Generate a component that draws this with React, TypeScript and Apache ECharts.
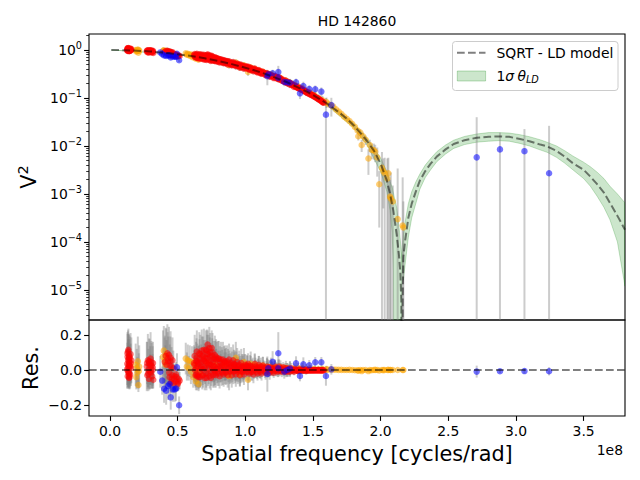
import React, { useEffect, useRef } from "react";
import * as echarts from "echarts";

const FONT = "DejaVu Sans";

// axis extents (frequency in units of 1e8 cycles/rad)
const X_MIN = -0.155;
const X_MAX = 3.806;
const LOGV2_MIN = -5.625;
const LOGV2_MAX = 0.333;
const RES_MIN = -0.261;
const RES_MAX = 0.284;

const xTicks = [0, 0.5, 1.0, 1.5, 2.0, 2.5, 3.0, 3.5];
const yTickExps = [-5, -4, -3, -2, -1, 0];
const resTicks = [-0.2, 0, 0.2];

// SQRT - LD model curve
const modelFreq = [0.01, 0.1, 0.2, 0.3, 0.4, 0.5, 0.6, 0.7, 0.8, 0.9, 1.0, 1.1, 1.2, 1.3, 1.4,
  1.45, 1.5, 1.55, 1.6, 1.65, 1.7, 1.75, 1.8, 1.85, 1.9, 1.95, 2.0,
  2.045, 2.07, 2.094, 2.119, 2.135, 2.145, 2.153, 2.158, 2.163, 2.168,
  2.18, 2.205, 2.23, 2.26, 2.29, 2.33, 2.37, 2.415,
  2.48, 2.54, 2.62, 2.71, 2.80, 2.87, 2.95, 3.03, 3.10, 3.18,
  3.23, 3.30, 3.36, 3.42, 3.50, 3.55, 3.60, 3.65, 3.695, 3.75, 3.806];
const modelV2 = [1.0, 0.992, 0.969, 0.931, 0.880, 0.818, 0.748, 0.671, 0.590, 0.508, 0.428, 0.352, 0.281, 0.218, 0.160,
  0.137, 0.115, 0.095, 0.0776, 0.061, 0.0483, 0.037, 0.027, 0.0188, 0.0127, 0.008, 0.0043,
  0.00195, 0.001, 4.5e-4, 1.4e-4, 5.6e-5, 2.5e-5, 6e-6, 0, 6e-6, 4.9e-5,
  1.0e-4, 3.2e-4, 6.3e-4, 1.12e-3, 1.9e-3, 3.0e-3, 4.3e-3, 6.0e-3,
  8.5e-3, 1.1e-2, 1.32e-2, 1.48e-2, 1.55e-2, 1.58e-2, 1.55e-2, 1.40e-2, 1.26e-2, 1.07e-2,
  9.8e-3, 7.9e-3, 6.0e-3, 4.4e-3, 3.2e-3, 2.3e-3, 1.6e-3, 1.07e-3, 6.5e-4, 3.5e-4, 1.8e-4];

// 1 sigma theta_LD band
const bandFreq = [0.01, 0.5, 1.0, 1.4, 1.6, 1.8, 1.9, 2.0,
  2.045, 2.07, 2.085, 2.095, 2.10, 2.12, 2.14, 2.15, 2.152, 2.156,
  2.16, 2.168, 2.18, 2.205, 2.23, 2.26, 2.29, 2.33, 2.37, 2.415,
  2.48, 2.54, 2.62, 2.71, 2.80, 2.87, 2.95, 3.03, 3.10, 3.178,
  3.23, 3.30, 3.36, 3.42, 3.50, 3.55, 3.60, 3.65, 3.695, 3.75, 3.806];
const bandUpper = [1.0, 0.822, 0.44, 0.17, 0.083, 0.03, 0.0145, 0.0056,
  0.003, 0.0018, 0.0014, 0.00105, 8.9e-4, 5.0e-4, 1.6e-4, 8e-5, 7e-5, 5e-5,
  8e-5, 1.4e-4, 2.5e-4, 6.3e-4, 1.12e-3, 1.78e-3, 2.6e-3, 4.0e-3, 5.5e-3, 7.6e-3,
  1.05e-2, 1.32e-2, 1.58e-2, 1.78e-2, 1.9e-2, 1.9e-2, 1.86e-2, 1.72e-2, 1.56e-2, 1.35e-2,
  1.2e-2, 1.0e-2, 8.0e-3, 6.2e-3, 4.6e-3, 3.7e-3, 2.85e-3, 2.1e-3, 1.45e-3, 1.0e-3, 6.5e-4];
const bandLower = [1.0, 0.814, 0.416, 0.15, 0.072, 0.024, 0.0105, 0.0029,
  0.00115, 4.5e-4, 1.6e-4, 2.5e-5, 0, 0, 0, 0, 0, 5e-5,
  3.2e-5, 1.6e-5, 3.2e-5, 1.26e-4, 3.2e-4, 6.3e-4, 1.26e-3, 2.2e-3, 3.2e-3, 4.7e-3,
  6.8e-3, 8.9e-3, 1.07e-2, 1.2e-2, 1.26e-2, 1.29e-2, 1.26e-2, 1.13e-2, 1.0e-2, 8.3e-3,
  7.4e-3, 5.8e-3, 4.4e-3, 3.2e-3, 2.1e-3, 1.45e-3, 9.0e-4, 5.3e-4, 2.9e-4, 1.0e-4, 1.2e-5];

// data points: [frequency (1e8), V2, sigma V2, residual]
const orangePoints = [
  [0.190, 1.00, 0.12, 0.03], [0.194, 0.93, 0.07, -0.04], [0.198, 0.98, 0.11, 0.01], [0.202, 0.95, 0.09, -0.015],
  [0.206, 1.02, 0.14, 0.05], [0.210, 0.88, 0.04, -0.085], [0.213, 0.96, 0.10, -0.005], [0.216, 0.99, 0.12, 0.02],
  [0.392, 0.96, 0.15, 0.075], [0.398, 0.98, 0.14, 0.11], [0.404, 0.93, 0.13, 0.055], [0.410, 0.90, 0.11, 0.03],
  [0.416, 0.95, 0.15, 0.085],
  [0.560, 0.85, 0.09, 0.065], [0.568, 0.80, 0.08, 0.02], [0.575, 0.83, 0.09, 0.055], [0.582, 0.78, 0.07, 0.01],
  [0.590, 0.81, 0.09, 0.05], [0.598, 0.74, 0.07, -0.01], [0.606, 0.79, 0.09, 0.045], [0.615, 0.70, 0.06, -0.04],
  [0.625, 0.76, 0.09, 0.025], [0.635, 0.66, 0.05, -0.065], [0.645, 0.72, 0.08, 0.0], [0.655, 0.63, 0.04, -0.08],
  [0.665, 0.68, 0.07, -0.025],
  [0.72, 0.70, 0.10, 0.04], [0.78, 0.64, 0.09, 0.03], [0.85, 0.58, 0.09, 0.03], [0.88, 0.49, 0.08, -0.035],
  [0.93, 0.55, 0.09, 0.07], [0.96, 0.44, 0.07, -0.025], [0.99, 0.48, 0.08, 0.045], [1.02, 0.35, 0.06, -0.055],
  [1.04, 0.43, 0.07, 0.035], [1.07, 0.40, 0.06, 0.03], [1.10, 0.37, 0.06, 0.02], [1.13, 0.35, 0.05, 0.025],
  [1.16, 0.32, 0.05, 0.015], [1.19, 0.31, 0.05, 0.02], [1.22, 0.28, 0.04, 0.015], [1.26, 0.26, 0.04, 0.015],
  [1.30, 0.23, 0.04, 0.012], [1.33, 0.21, 0.04, 0.01], [1.36, 0.19, 0.03, 0.008], [1.39, 0.175, 0.03, 0.01],
  [1.42, 0.16, 0.03, 0.01], [1.45, 0.14, 0.03, 0.005], [1.48, 0.13, 0.02, 0.008], [1.51, 0.115, 0.02, 0.005],
  [1.54, 0.10, 0.02, 0.004], [1.57, 0.09, 0.02, 0.005], [1.60, 0.082, 0.02, 0.004],
  [1.61, 0.076, 0.006, 0.002], [1.63, 0.071, 0.006, 0.003], [1.65, 0.066, 0.005, 0.002], [1.67, 0.058, 0.005, 0.002],
  [1.69, 0.052, 0.005, 0.001], [1.71, 0.047, 0.004, 0.001], [1.73, 0.041, 0.004, 0.0], [1.75, 0.037, 0.004, 0.0],
  [1.77, 0.033, 0.003, 0.001], [1.79, 0.029, 0.003, 0.0], [1.81, 0.025, 0.003, -0.001], [1.83, 0.021, 0.003, -0.001],
  [1.835, 0.016, 0.003, -0.004], [1.85, 0.019, 0.003, 0.0], [1.86, 0.0105, 0.003, -0.006], [1.87, 0.016, 0.003, 0.0],
  [1.89, 0.0135, 0.003, 0.0], [1.91, 0.0055, 0.003, -0.006], [1.92, 0.0105, 0.003, 0.0], [1.934, 0.0083, 0.003, -0.001],
  [1.95, 0.0082, 0.003, 0.0], [1.96, 0.0076, 0.003, 0.001], [1.975, 0.0058, 0.0035, 0.0], [1.99, 0.0016, 0.0014, -0.003],
  [2.01, 0.0035, 0.004, 0.0], [2.02, 0.003, 0.0025, -0.0004], [2.03, 0.0027, 0.003, 0.0], [2.05, 0.0021, 0.0034, 0.0002],
  [2.057, 0.0027, 0.003, 0.001], [2.07, 0.00088, 0.0011, 0.0], [2.075, 0.00081, 0.002, 0.0], [2.09, 0.0007, 0.0008, 0.0002],
  [2.126, 0.0003, 0.0031, 0.0002], [2.163, 0.00022, 0.002, 0.0002], [2.168, 0.0002, 0.0005, 0.0002],
];

const redPoints = [
  [0.128, 1.02, 0.12, 0.035], [0.130, 1.06, 0.13, 0.075], [0.131, 0.95, 0.07, -0.035], [0.133, 1.09, 0.12, 0.105],
  [0.135, 1.00, 0.11, 0.015], [0.137, 0.97, 0.09, -0.015], [0.139, 1.05, 0.14, 0.065], [0.141, 0.94, 0.06, -0.045],
  [0.143, 1.03, 0.13, 0.045], [0.146, 1.01, 0.12, 0.025], [0.149, 0.96, 0.08, -0.025], [0.152, 1.07, 0.12, 0.09],
  [0.155, 0.99, 0.10, 0.01], [0.158, 1.04, 0.13, 0.055],
  [0.127, 0.99, 0.11, 0.005], [0.129, 1.08, 0.12, 0.095], [0.132, 0.98, 0.09, -0.005], [0.134, 1.04, 0.12, 0.055],
  [0.136, 1.10, 0.12, 0.115], [0.138, 1.01, 0.11, 0.03], [0.140, 0.97, 0.08, -0.02], [0.142, 1.06, 0.12, 0.08],
  [0.144, 0.95, 0.07, -0.04], [0.147, 1.05, 0.12, 0.07], [0.150, 1.00, 0.10, 0.02], [0.153, 1.02, 0.11, 0.04],
  [0.272, 0.95, 0.14, 0.02], [0.276, 0.90, 0.08, -0.03], [0.280, 0.99, 0.15, 0.055], [0.284, 0.93, 0.12, 0.0],
  [0.288, 0.88, 0.06, -0.05], [0.292, 0.96, 0.14, 0.035], [0.296, 0.92, 0.10, -0.01], [0.300, 0.99, 0.15, 0.065],
  [0.304, 0.91, 0.09, -0.015], [0.308, 0.95, 0.13, 0.025], [0.312, 0.89, 0.07, -0.035], [0.316, 0.94, 0.12, 0.015],
  [0.320, 0.87, 0.05, -0.055],
  [0.274, 0.97, 0.12, 0.04], [0.282, 0.91, 0.08, -0.02], [0.290, 0.98, 0.13, 0.05], [0.298, 0.95, 0.11, 0.025],
  [0.306, 0.97, 0.12, 0.045], [0.314, 0.92, 0.09, 0.0], [0.318, 0.96, 0.12, 0.04],
  [0.405, 0.92, 0.15, 0.045], [0.412, 0.95, 0.16, 0.08], [0.418, 0.90, 0.14, 0.03], [0.424, 0.96, 0.165, 0.095],
  [0.430, 0.91, 0.14, 0.05], [0.436, 0.94, 0.16, 0.085], [0.442, 0.88, 0.12, 0.025], [0.448, 0.92, 0.15, 0.07],
  [0.455, 0.87, 0.11, 0.02], [0.462, 0.90, 0.13, 0.055], [0.468, 0.85, 0.10, 0.01], [0.440, 0.81, 0.07, -0.04],
  [0.452, 0.78, 0.06, -0.07], [0.460, 0.82, 0.07, -0.03], [0.470, 0.77, 0.05, -0.075], [0.478, 0.80, 0.07, -0.035],
  [0.485, 0.76, 0.05, -0.065], [0.492, 0.79, 0.06, -0.04], [0.500, 0.74, 0.04, -0.08], [0.508, 0.77, 0.06, -0.05],
  [0.515, 0.75, 0.05, -0.06],
  [0.438, 0.84, 0.08, -0.015], [0.458, 0.80, 0.07, -0.05], [0.474, 0.79, 0.06, -0.05], [0.488, 0.80, 0.07, -0.025],
  [0.505, 0.75, 0.05, -0.07], [0.426, 0.93, 0.15, 0.065], [0.446, 0.90, 0.14, 0.05],
  [0.625, 0.76, 0.10, 0.03], [0.632, 0.70, 0.07, -0.03], [0.640, 0.79, 0.11, 0.07], [0.648, 0.73, 0.10, 0.02],
  [0.655, 0.67, 0.07, -0.04], [0.662, 0.77, 0.11, 0.065], [0.670, 0.71, 0.10, 0.01], [0.678, 0.80, 0.12, 0.11],
  [0.685, 0.69, 0.09, 0.005], [0.692, 0.74, 0.11, 0.06], [0.700, 0.63, 0.07, -0.045], [0.708, 0.78, 0.11, 0.115],
  [0.715, 0.70, 0.10, 0.04], [0.722, 0.81, 0.08, 0.145], [0.730, 0.66, 0.09, 0.01], [0.738, 0.72, 0.11, 0.075],
  [0.745, 0.59, 0.07, -0.045], [0.752, 0.76, 0.10, 0.125], [0.760, 0.67, 0.10, 0.045], [0.768, 0.62, 0.09, 0.0],
  [0.775, 0.70, 0.11, 0.085], [0.782, 0.58, 0.07, -0.03], [0.790, 0.66, 0.10, 0.06], [0.800, 0.61, 0.09, 0.02],
  [0.810, 0.55, 0.07, -0.035], [0.820, 0.64, 0.10, 0.06], [0.830, 0.59, 0.09, 0.025], [0.840, 0.53, 0.07, -0.025],
  [0.850, 0.60, 0.09, 0.05], [0.860, 0.56, 0.08, 0.02], [0.870, 0.50, 0.07, -0.03], [0.880, 0.58, 0.09, 0.06],
  [0.890, 0.53, 0.08, 0.015], [0.900, 0.48, 0.07, -0.03], [0.910, 0.56, 0.09, 0.055], [0.920, 0.51, 0.08, 0.02],
  [0.930, 0.46, 0.07, -0.025], [0.940, 0.52, 0.08, 0.045], [0.950, 0.47, 0.07, 0.0], [0.960, 0.43, 0.06, -0.03],
  [0.970, 0.49, 0.08, 0.04], [0.980, 0.45, 0.07, 0.01], [0.990, 0.41, 0.06, -0.025],
  [0.628, 0.73, 0.09, 0.0], [0.636, 0.78, 0.11, 0.05], [0.644, 0.69, 0.08, -0.035], [0.652, 0.75, 0.10, 0.035],
  [0.660, 0.81, 0.12, 0.095], [0.666, 0.70, 0.09, -0.01], [0.674, 0.74, 0.10, 0.045], [0.682, 0.66, 0.08, -0.03],
  [0.689, 0.76, 0.11, 0.08], [0.696, 0.69, 0.09, 0.02], [0.704, 0.72, 0.10, 0.05], [0.711, 0.65, 0.08, -0.02],
  [0.718, 0.75, 0.11, 0.09], [0.726, 0.69, 0.09, 0.03], [0.734, 0.78, 0.12, 0.125], [0.742, 0.67, 0.09, 0.03],
  [0.749, 0.62, 0.08, -0.01], [0.756, 0.71, 0.10, 0.08], [0.764, 0.65, 0.09, 0.025], [0.772, 0.60, 0.08, -0.02],
  [0.779, 0.68, 0.10, 0.065], [0.786, 0.63, 0.09, 0.03], [0.795, 0.58, 0.08, -0.01], [0.805, 0.65, 0.10, 0.065],
  [0.815, 0.60, 0.09, 0.02], [0.825, 0.56, 0.08, -0.01], [0.835, 0.62, 0.10, 0.06], [0.845, 0.57, 0.08, 0.02],
  [0.855, 0.53, 0.07, -0.015], [0.865, 0.59, 0.09, 0.05], [0.875, 0.54, 0.08, 0.01], [0.885, 0.51, 0.07, -0.01],
  [0.895, 0.55, 0.09, 0.04], [0.905, 0.50, 0.07, 0.0], [0.915, 0.53, 0.08, 0.035], [0.925, 0.48, 0.07, -0.005],
  [0.935, 0.50, 0.08, 0.025], [0.945, 0.46, 0.07, -0.01], [0.955, 0.50, 0.08, 0.03], [0.965, 0.45, 0.07, -0.005],
  [0.975, 0.47, 0.07, 0.02], [0.985, 0.43, 0.06, -0.01], [0.995, 0.45, 0.07, 0.02],
  [0.621, 0.78, 0.10, 0.04], [0.626, 0.82, 0.12, 0.08], [0.634, 0.74, 0.09, 0.01], [0.638, 0.70, 0.07, -0.025],
  [0.642, 0.83, 0.12, 0.105], [0.646, 0.77, 0.10, 0.05], [0.650, 0.68, 0.07, -0.03], [0.658, 0.74, 0.10, 0.04],
  [0.664, 0.66, 0.06, -0.04], [0.668, 0.79, 0.11, 0.09], [0.676, 0.70, 0.09, 0.02], [0.680, 0.76, 0.11, 0.08],
  [0.687, 0.64, 0.07, -0.03], [0.694, 0.79, 0.12, 0.115], [0.698, 0.72, 0.10, 0.05], [0.702, 0.68, 0.09, 0.01],
  [0.706, 0.74, 0.10, 0.07], [0.713, 0.62, 0.07, -0.045], [0.716, 0.77, 0.12, 0.11], [0.720, 0.73, 0.10, 0.065],
  [0.724, 0.64, 0.07, -0.02], [0.728, 0.75, 0.11, 0.09], [0.732, 0.70, 0.10, 0.04], [0.736, 0.62, 0.07, -0.035],
  [0.740, 0.74, 0.11, 0.1], [0.747, 0.69, 0.10, 0.055], [0.754, 0.64, 0.08, 0.01], [0.758, 0.73, 0.11, 0.1],
  [0.762, 0.60, 0.07, -0.03], [0.766, 0.69, 0.10, 0.065], [0.770, 0.64, 0.09, 0.02], [0.777, 0.61, 0.08, -0.005],
  [0.784, 0.69, 0.10, 0.075], [0.792, 0.61, 0.08, 0.005], [0.798, 0.66, 0.10, 0.065], [0.803, 0.57, 0.07, -0.02],
  [0.812, 0.63, 0.09, 0.045], [0.818, 0.59, 0.08, 0.01], [0.826, 0.61, 0.09, 0.04], [0.833, 0.55, 0.07, -0.015],
  [0.842, 0.60, 0.09, 0.045], [0.848, 0.55, 0.08, 0.0], [0.857, 0.58, 0.09, 0.035],
  [0.862, 0.53, 0.07, -0.01], [0.872, 0.57, 0.08, 0.04], [0.882, 0.55, 0.08, 0.03], [0.892, 0.50, 0.07, -0.005],
  [0.902, 0.53, 0.08, 0.025], [0.912, 0.49, 0.07, -0.01], [0.922, 0.52, 0.08, 0.03], [0.932, 0.49, 0.07, 0.005],
  [0.942, 0.48, 0.07, 0.005], [0.952, 0.49, 0.07, 0.02], [0.962, 0.47, 0.07, 0.01], [0.972, 0.44, 0.06, -0.01],
  [0.982, 0.46, 0.07, 0.02], [0.992, 0.44, 0.06, 0.005],
  [1.000, 0.46, 0.06, 0.03], [1.010, 0.41, 0.05, -0.01], [1.020, 0.45, 0.06, 0.035], [1.030, 0.39, 0.05, -0.02],
  [1.040, 0.42, 0.06, 0.02], [1.050, 0.40, 0.05, 0.01], [1.060, 0.36, 0.05, -0.025], [1.070, 0.41, 0.06, 0.035],
  [1.080, 0.37, 0.05, 0.005], [1.090, 0.34, 0.04, -0.02], [1.100, 0.38, 0.05, 0.03], [1.110, 0.35, 0.05, 0.005],
  [1.120, 0.32, 0.04, -0.02], [1.130, 0.35, 0.05, 0.025], [1.140, 0.33, 0.04, 0.01], [1.150, 0.30, 0.04, -0.015],
  [1.160, 0.33, 0.05, 0.02], [1.170, 0.31, 0.04, 0.005], [1.180, 0.28, 0.04, -0.015], [1.190, 0.30, 0.04, 0.015],
  [1.200, 0.29, 0.04, 0.005], [1.210, 0.26, 0.03, -0.015], [1.220, 0.29, 0.04, 0.02], [1.230, 0.27, 0.04, 0.005],
  [1.240, 0.25, 0.03, -0.01], [1.250, 0.27, 0.04, 0.02], [1.260, 0.25, 0.03, 0.005], [1.270, 0.23, 0.03, -0.01],
  [1.280, 0.24, 0.03, 0.015], [1.290, 0.22, 0.03, 0.0], [1.300, 0.21, 0.03, -0.01], [1.310, 0.22, 0.03, 0.01],
  [1.320, 0.21, 0.03, 0.005], [1.330, 0.19, 0.03, -0.01], [1.340, 0.20, 0.03, 0.01], [1.350, 0.19, 0.02, 0.0],
  [1.360, 0.17, 0.02, -0.01], [1.370, 0.18, 0.02, 0.005], [1.380, 0.17, 0.02, 0.0], [1.390, 0.16, 0.02, -0.005],
  [1.400, 0.165, 0.02, 0.005], [1.410, 0.152, 0.02, -0.003], [1.420, 0.153, 0.02, 0.003], [1.430, 0.142, 0.02, -0.002],
  [1.440, 0.142, 0.02, 0.003], [1.450, 0.132, 0.02, -0.004], [1.460, 0.133, 0.02, 0.001], [1.470, 0.124, 0.015, -0.003],
  [1.480, 0.124, 0.015, 0.001], [1.490, 0.116, 0.015, -0.003], [1.500, 0.115, 0.015, 0.0], [1.510, 0.108, 0.015, -0.002],
  [1.520, 0.105, 0.015, 0.0], [1.530, 0.099, 0.015, -0.002], [1.540, 0.097, 0.015, 0.0], [1.550, 0.092, 0.01, -0.002],
  [1.560, 0.088, 0.01, -0.001], [1.570, 0.083, 0.01, -0.002], [1.580, 0.080, 0.01, -0.001],
  [1.005, 0.43, 0.05, 0.005], [1.015, 0.44, 0.06, 0.02], [1.025, 0.40, 0.05, -0.01], [1.035, 0.43, 0.06, 0.025],
  [1.045, 0.38, 0.05, -0.01], [1.055, 0.41, 0.05, 0.02], [1.065, 0.38, 0.05, 0.0], [1.075, 0.39, 0.05, 0.02],
  [1.085, 0.35, 0.04, -0.01], [1.095, 0.37, 0.05, 0.015], [1.105, 0.34, 0.04, -0.005], [1.115, 0.36, 0.05, 0.02],
  [1.125, 0.33, 0.04, 0.0], [1.135, 0.34, 0.04, 0.015], [1.145, 0.31, 0.04, -0.005], [1.155, 0.32, 0.04, 0.01],
  [1.165, 0.30, 0.04, 0.0], [1.175, 0.31, 0.04, 0.015], [1.185, 0.28, 0.03, -0.005], [1.195, 0.29, 0.04, 0.01],
  [1.205, 0.27, 0.03, -0.005], [1.215, 0.28, 0.04, 0.01], [1.225, 0.26, 0.03, -0.005], [1.235, 0.27, 0.03, 0.01],
  [1.245, 0.25, 0.03, 0.0], [1.255, 0.24, 0.03, -0.005], [1.265, 0.25, 0.03, 0.01], [1.275, 0.23, 0.03, 0.0],
  [1.285, 0.22, 0.03, -0.005], [1.295, 0.23, 0.03, 0.01], [1.305, 0.21, 0.03, -0.003], [1.315, 0.20, 0.03, -0.008],
  [1.325, 0.205, 0.03, 0.0], [1.335, 0.20, 0.02, 0.003], [1.345, 0.185, 0.02, -0.004], [1.355, 0.185, 0.02, 0.0],
  [1.365, 0.178, 0.02, 0.0], [1.375, 0.17, 0.02, -0.002], [1.385, 0.163, 0.02, -0.003], [1.395, 0.16, 0.02, -0.002],
  [1.405, 0.155, 0.02, -0.003], [1.415, 0.15, 0.02, -0.002], [1.425, 0.145, 0.02, -0.002], [1.435, 0.14, 0.02, -0.002],
  [1.445, 0.134, 0.02, -0.003], [1.455, 0.13, 0.02, -0.002], [1.465, 0.125, 0.015, -0.003], [1.475, 0.12, 0.015, -0.003],
  [1.485, 0.117, 0.015, -0.003], [1.495, 0.113, 0.015, -0.002], [1.505, 0.109, 0.015, -0.003], [1.515, 0.105, 0.015, -0.002],
  [1.525, 0.101, 0.015, -0.002], [1.535, 0.097, 0.015, -0.002], [1.545, 0.093, 0.01, -0.002], [1.555, 0.089, 0.01, -0.002],
  [1.565, 0.085, 0.01, -0.002], [1.575, 0.081, 0.01, -0.002],
  [1.012, 0.44, 0.06, 0.025], [1.032, 0.41, 0.05, 0.005], [1.052, 0.38, 0.05, -0.01], [1.072, 0.38, 0.05, 0.005],
  [1.092, 0.37, 0.05, 0.01], [1.112, 0.33, 0.04, -0.01],
];

const bluePoints = [
  [0.372, 0.89, 0.09, -0.01], [0.386, 0.82, 0.08, -0.06], [0.400, 0.77, 0.08, -0.106], [0.415, 0.753, 0.08, -0.117],
  [0.430, 0.77, 0.08, -0.09], [0.440, 0.77, 0.07, -0.08], [0.449, 0.696, 0.07, -0.155], [0.465, 0.733, 0.07, -0.11],
  [0.479, 0.725, 0.07, -0.11], [0.488, 0.72, 0.07, -0.105], [0.495, 0.836, 0.08, 0.015], [0.511, 0.61, 0.05, -0.2],
  [1.163, 0.284, 0.10, -0.023], [1.170, 0.312, 0.05, 0.01], [1.202, 0.327, 0.06, 0.047], [1.244, 0.347, 0.12, 0.095],
  [1.244, 0.262, 0.05, 0.01], [1.288, 0.216, 0.04, -0.009], [1.310, 0.212, 0.04, 0.0], [1.330, 0.208, 0.04, 0.009],
  [1.375, 0.213, 0.04, 0.038], [1.404, 0.125, 0.03, -0.034], [1.429, 0.178, 0.04, 0.032], [1.473, 0.153, 0.03, 0.027],
  [1.517, 0.152, 0.03, 0.044], [1.562, 0.136, 0.03, 0.044], [1.596, 0.045, 0.055, -0.034], [1.636, 0.071, 0.03, 0.004],
  [2.71, 0.0058, 0.034, -0.009], [2.882, 0.0085, 0.0105, -0.007], [3.063, 0.0078, 0.0147, -0.006], [3.245, 0.0027, 0.0236, -0.007],
];

const lg = (v: number) => Math.log10(Math.max(v, 1e-9));

const minorTicks: number[] = [];
for (let e = -6; e <= 0; e++) {
  for (let k = 2; k <= 9; k++) {
    const v = e + Math.log10(k);
    if (v > LOGV2_MIN && v < LOGV2_MAX) minorTicks.push(v);
  }
}

const allPoints = [...orangePoints, ...redPoints, ...bluePoints];
const ERR_COLOR = "rgba(128,128,128,0.4)";
const DASH = [7.7, 3.3];
const PT_SIZE = 6.5;
const PT_ALPHA = 0.55;

function errRender(params: any, api: any) {
  const p1 = api.coord([api.value(0), api.value(1)]);
  const p2 = api.coord([api.value(0), api.value(2)]);
  return {
    type: "line",
    shape: { x1: p1[0], y1: p1[1], x2: p2[0], y2: p2[1] },
    style: { stroke: ERR_COLOR, lineWidth: 2 },
  };
}

function bandRender(params: any, api: any) {
  const up = bandFreq.map((x, i) => api.coord([x, lg(bandUpper[i])]));
  const lo = bandFreq.map((x, i) => api.coord([x, lg(bandLower[i])])).reverse();
  const cs = params.coordSys;
  return {
    type: "polygon",
    shape: { points: [...up, ...lo] },
    style: { fill: "rgba(0,128,0,0.2)", stroke: "rgba(0,128,0,0.22)", lineWidth: 1 },
    clipPath: { type: "rect", shape: { x: cs.x, y: cs.y, width: cs.width, height: cs.height } },
  };
}

const scatterTop = (pts: number[][], color: string, name: string) => ({
  type: "scatter",
  name,
  xAxisIndex: 0,
  yAxisIndex: 0,
  symbolSize: PT_SIZE,
  z: 3,
  silent: true,
  itemStyle: { color, opacity: PT_ALPHA },
  data: pts.map((p) => [p[0], lg(p[1])]),
});
const scatterRes = (pts: number[][], color: string, name: string) => ({
  type: "scatter",
  name,
  xAxisIndex: 1,
  yAxisIndex: 1,
  symbolSize: PT_SIZE,
  z: 3,
  silent: true,
  itemStyle: { color, opacity: PT_ALPHA },
  data: pts.map((p) => [p[0], p[3]]),
});

const tickStyle = { color: "#000", width: 1.1 };
const labelBase = { color: "#000", fontFamily: FONT, fontSize: 13.9 };
const fmtRes = (v: number) => (v < 0 ? "\u2212" : "") + Math.abs(v).toFixed(1);
const noLine = { show: false, onZero: false };

function buildOption() {
  return {
    animation: false,
    backgroundColor: "#ffffff",
    textStyle: { fontFamily: FONT },
    grid: [
      { left: 89, top: 34, width: 536, height: 286, show: true, borderColor: "#000", borderWidth: 1.1, backgroundColor: "transparent" },
      { left: 89, top: 320, width: 536, height: 96, show: true, borderColor: "#000", borderWidth: 1.1, backgroundColor: "transparent" },
    ],
    xAxis: [
      {
        gridIndex: 0, type: "value", min: X_MIN, max: X_MAX, position: "bottom",
        axisLine: noLine, axisTick: { show: false }, axisLabel: { show: false }, splitLine: { show: false },
      },
      {
        gridIndex: 1, type: "value", min: X_MIN, max: X_MAX, position: "bottom",
        axisLine: noLine, splitLine: { show: false },
        axisTick: { show: true, length: 4.9, customValues: xTicks, lineStyle: tickStyle },
        axisLabel: { ...labelBase, customValues: xTicks, margin: 8, formatter: (v: number) => v.toFixed(1) },
        name: "Spatial frequency [cycles/rad]", nameLocation: "middle", nameGap: 27, nameMoveOverlap: false,
        nameTextStyle: { color: "#000", fontFamily: FONT, fontSize: 20.8 },
      },
    ],
    yAxis: [
      {
        gridIndex: 0, type: "value", min: LOGV2_MIN, max: LOGV2_MAX, position: "left",
        axisLine: noLine, splitLine: { show: false },
        axisTick: { show: true, length: 4.9, customValues: yTickExps, lineStyle: tickStyle },
        axisLabel: {
          customValues: yTickExps, margin: 7,
          formatter: (v: number) => `{b|10}{s|${v === 0 ? "0" : "\u2212" + Math.abs(v)}}`,
          rich: {
            b: { ...labelBase },
            s: { color: "#000", fontFamily: FONT, fontSize: 9.7, padding: [0, 0, 8, 0] },
          },
        },
        name: "{a|V}{b|2}", nameLocation: "middle", nameGap: 47, nameMoveOverlap: false,
        nameTextStyle: {
          rich: {
            a: { color: "#000", fontFamily: FONT, fontSize: 20.8 },
            b: { color: "#000", fontFamily: FONT, fontSize: 14.6, padding: [0, 0, 12, 0] },
          },
        },
      },
      {
        gridIndex: 1, type: "value", min: RES_MIN, max: RES_MAX, position: "left",
        axisLine: noLine, splitLine: { show: false },
        axisTick: { show: true, length: 4.9, customValues: resTicks, lineStyle: tickStyle },
        axisLabel: { ...labelBase, customValues: resTicks, margin: 7, formatter: fmtRes },
        name: "Res.", nameLocation: "middle", nameGap: 48, nameMoveOverlap: false,
        nameTextStyle: { color: "#000", fontFamily: FONT, fontSize: 20.8 },
      },
      {
        gridIndex: 0, type: "value", min: LOGV2_MIN, max: LOGV2_MAX, position: "left", offset: 0,
        axisLine: noLine, splitLine: { show: false }, axisLabel: { show: false },
        axisTick: { show: true, length: 2.8, customValues: minorTicks, lineStyle: { color: "#000", width: 0.8 } },
      },
    ],
    series: [
      {
        type: "custom", name: "band", xAxisIndex: 0, yAxisIndex: 0, z: 1, silent: true, clip: true,
        renderItem: bandRender, data: [[bandFreq[0], lg(bandUpper[0])]],
      },
      {
        type: "custom", name: "errTop", xAxisIndex: 0, yAxisIndex: 0, z: 2, silent: true, clip: true,
        renderItem: errRender,
        encode: { x: 0, y: [1, 2] },
        data: allPoints.map((p) => [p[0], Math.max(lg(p[1] - p[2]), LOGV2_MIN), lg(p[1] + p[2])]),
      },
      scatterTop(orangePoints, "#ffa500", "orange"),
      scatterTop(redPoints, "#ff0000", "red"),
      scatterTop(bluePoints, "#0000ff", "blue"),
      {
        type: "line", name: "SQRT - LD model", xAxisIndex: 0, yAxisIndex: 0, z: 4, silent: true,
        showSymbol: false, symbol: "none", clip: true,
        lineStyle: { color: "rgba(0,0,0,0.5)", width: 2, type: DASH },
        data: modelFreq.map((x, i) => [x, lg(modelV2[i])]),
      },
      {
        type: "scatter", name: "zero", xAxisIndex: 1, yAxisIndex: 1, z: 1, silent: true, data: [],
        markLine: {
          silent: true, symbol: ["none", "none"], label: { show: false },
          lineStyle: { color: "rgba(0,0,0,0.5)", width: 2, type: DASH },
          data: [{ yAxis: 0 }],
        },
      },
      {
        type: "custom", name: "errRes", xAxisIndex: 1, yAxisIndex: 1, z: 2, silent: true, clip: true,
        renderItem: errRender,
        encode: { x: 0, y: [1, 2] },
        data: allPoints.map((p) => [p[0], p[3] - p[2], p[3] + p[2]]),
      },
      scatterRes(orangePoints, "#ffa500", "orangeRes"),
      scatterRes(redPoints, "#ff0000", "redRes"),
      scatterRes(bluePoints, "#0000ff", "blueRes"),
    ],
    graphic: [
      {
        type: "text", x: 357, y: 21, z: 100,
        style: { text: "HD 142860", fontFamily: FONT, fontSize: 13.9, fill: "#000", align: "center", verticalAlign: "middle" },
      },
      {
        type: "text", x: 623, y: 450, z: 100,
        style: { text: "1e8", fontFamily: FONT, fontSize: 13.9, fill: "#000", align: "right", verticalAlign: "middle" },
      },
      {
        type: "group", z: 100,
        children: [
          {
            type: "rect", shape: { x: 452.5, y: 41.5, width: 165.5, height: 49, r: 3 },
            style: { fill: "rgba(255,255,255,0.8)", stroke: "#cccccc", lineWidth: 1 },
          },
          {
            type: "line", shape: { x1: 457, y1: 52.7, x2: 485.5, y2: 52.7 },
            style: { stroke: "rgba(0,0,0,0.5)", lineWidth: 2, lineDash: DASH },
          },
          {
            type: "text", x: 496.5, y: 53,
            style: { text: "SQRT - LD model", fontFamily: FONT, fontSize: 13.9, fill: "#000", align: "left", verticalAlign: "middle" },
          },
          {
            type: "rect", shape: { x: 457.3, y: 71, width: 28.3, height: 10 },
            style: { fill: "rgba(0,128,0,0.2)", stroke: "rgba(0,128,0,0.25)", lineWidth: 1 },
          },
          {
            type: "text", x: 496.5, y: 76,
            style: {
              text: "{n|1}{g|\u03c3} {g|\u03b8}{sub|LD}",
              align: "left", verticalAlign: "middle",
              rich: {
                n: { fontFamily: FONT, fontSize: 13.9, fill: "#000" },
                g: { fontFamily: FONT, fontSize: 13.9, fontStyle: "italic", fill: "#000" },
                sub: { fontFamily: FONT, fontSize: 9.7, fontStyle: "italic", fill: "#000", padding: [6, 0, 0, 0] },
              },
            },
          },
        ],
      },
    ],
  };
}

export default function App() {
  const ref = useRef<HTMLDivElement>(null);
  useEffect(() => {
    if (!ref.current) return;
    const chart = echarts.init(ref.current, undefined, { renderer: "svg" });
    chart.setOption(buildOption() as any);
    return () => chart.dispose();
  }, []);
  return (
    <div
      ref={ref}
      style={{ position: "fixed", left: 0, top: 0, width: 640, height: 480, background: "#fff" }}
    />
  );
}
